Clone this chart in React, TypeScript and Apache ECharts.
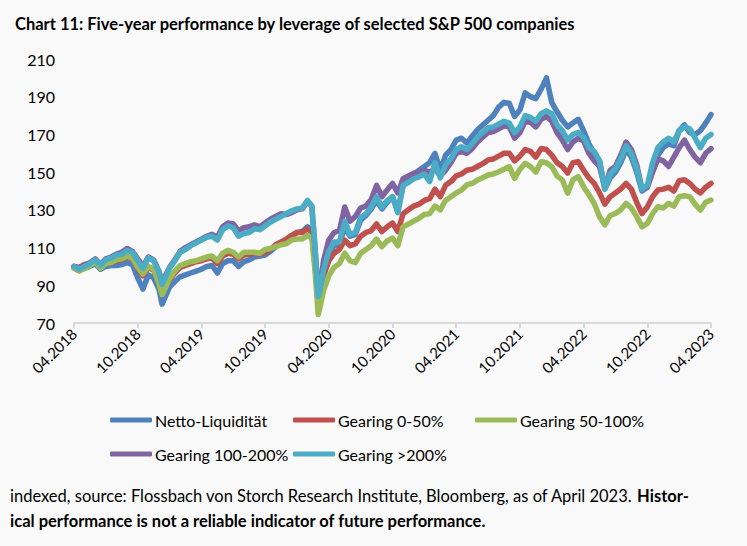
import React, { useEffect, useRef } from "react";
import * as echarts from "echarts";

const xLabels = ["04.2018", "10.2018", "04.2019", "10.2019", "04.2020", "10.2020", "04.2021", "10.2021", "04.2022", "10.2022", "04.2023"];

const seriesNames = ["Netto-Liquidität", "Gearing 0-50%", "Gearing 50-100%", "Gearing 100-200%", "Gearing >200%"];
const colors = ["#4F81BD", "#C0504D", "#9BBB59", "#8064A2", "#4BACC6"];

// month index since 04.2018
const months = [
  0, 0.5, 1, 1.5, 2, 2.5, 3, 3.5, 4, 4.5, 5, 5.5, 6, 6.5, 7, 7.5, 8, 8.3, 8.6, 9, 9.5,
  10, 10.5, 11, 11.5, 12, 12.5, 13, 13.5, 14, 14.5, 15, 15.5, 16, 16.5, 17, 17.5, 18, 18.5, 19, 19.5,
  20, 20.5, 21, 21.5, 22, 22.4, 22.7, 23, 23.2, 23.5, 24, 24.5, 25, 25.5, 26, 26.5, 27, 27.5, 28, 28.5, 29, 29.5,
  30, 30.5, 31, 31.5, 32, 32.5, 33, 33.5, 34, 34.5, 35, 35.5, 36, 36.5, 37, 37.5, 38, 38.5, 39, 39.5,
  40, 40.5, 41, 41.5, 42, 42.5, 43, 43.5, 44, 44.5, 45, 45.5, 46, 46.5, 47, 47.5, 48, 48.5, 49, 49.5,
  50, 50.5, 51, 51.5, 52, 52.5, 53, 53.5, 54, 54.5, 55, 55.5, 56, 56.5, 57, 57.5, 58, 58.5, 59, 59.5, 60,
];

const nettoLiquiditaet = [
  99.5, 98, 99, 100, 101.5, 98.5, 100, 100.5, 100.5, 101, 102, 101, 94, 88, 95.5, 94, 88, 80, 84, 89, 92,
  94.5, 95.5, 96.5, 97.5, 98.5, 100, 100.5, 96.5, 101.5, 103, 103, 100, 102.5, 103.5, 105, 105.5, 106, 108, 110.5, 112,
  113.5, 116, 118, 118.5, 121, 119, 100, 82, 86, 96, 106, 111, 111.5, 121, 116, 117, 124.5, 127, 130.5, 135, 130.5, 134,
  137, 129, 143, 145.5, 149, 151, 153, 155, 160, 151, 159, 162, 167, 168, 165.5, 169, 172.5, 175, 177.5, 180,
  184.5, 187, 186.5, 179.5, 183, 192, 190, 189, 194, 200, 187, 182, 177.5, 174, 176, 178, 172, 165, 160, 156,
  141, 147, 150, 155, 162, 158, 150, 140, 142, 152, 159, 163, 165, 164, 172, 175, 171, 170, 172, 176, 180.5,
];

const gearing0to50 = [
  100, 99.5, 101, 101.5, 103, 100, 102, 102, 103, 103.5, 105, 104, 99, 95, 99.5, 98, 92, 86, 89, 93, 96.5,
  99.5, 100.5, 101.5, 102.5, 103, 104, 104.5, 101.5, 105.5, 107, 106.5, 104, 106, 106.5, 107, 106.5, 107.5, 109, 111.5, 113,
  114.5, 116.5, 118, 118, 120, 118, 104, 82, 86, 95, 103, 107, 109, 114, 111, 112, 116, 118, 119, 122.5, 118.5, 121,
  123, 118.5, 128, 130, 132, 133, 135, 136, 141, 137, 143, 145, 148, 149, 151, 151.5, 153, 154.5, 156.5, 157,
  158.5, 160, 160, 156, 158.5, 162, 161, 158, 162.5, 162, 159, 155, 153, 149.5, 155, 155.5, 151, 147, 144, 139,
  133, 137, 139, 141, 144, 141, 134, 128, 131.5, 137, 140.5, 141, 142, 140, 145.5, 146, 144, 141, 139, 142, 144,
];

const gearing50to100 = [
  99, 97.5, 99, 100.5, 102.5, 99, 101.5, 102, 103.5, 104, 105.5, 104.5, 99.5, 96, 100, 98.5, 91, 85, 88.5, 93.5, 97.5,
  100.5, 101.5, 102.5, 103, 104, 105, 105.5, 103, 107, 108.5, 107.5, 105, 107.5, 107.5, 107.5, 107, 109, 109.5, 110.5, 111.5,
  112, 114, 114.5, 114.5, 116.5, 115, 98, 74.5, 79, 87, 95, 99.5, 101.5, 107, 103, 102, 107, 109, 111, 114.5, 110.5, 113.5,
  115, 111, 121, 122.5, 124, 125.5, 127.5, 128, 132, 130, 135, 137, 139, 140.5, 143.2, 144, 145.8, 147, 148.5, 149,
  150.2, 151.5, 152.9, 146.7, 151.5, 154.7, 152.9, 150, 155.5, 155, 152.9, 148, 145.8, 138.8, 146, 147.6, 142.3, 138, 133.4, 126.4,
  122, 127, 128.1, 130, 133.4, 131, 126.4, 121, 122.8, 128, 131.7, 131, 133.4, 132, 137, 137.5, 137, 133, 129.9, 134, 135.2,
];

const gearing100to200 = [
  100, 99, 100.5, 102, 104, 101, 104, 105, 106.5, 107.5, 109.5, 108, 104, 100, 105, 103.5, 97.5, 91.5, 95, 99.5, 103.5,
  108, 110, 111.5, 113, 114.5, 116, 117, 115.5, 121, 123, 122.5, 119, 120.5, 121, 122, 121, 123, 125, 126.5, 128,
  127.5, 128.5, 130, 130.5, 134.5, 132, 110, 85.5, 90, 103, 114, 118, 119, 131.5, 124, 126.5, 131, 132, 135.5, 143, 137, 140.5,
  144, 139, 146.5, 148, 149.5, 150, 151, 150, 152, 148, 151, 155, 160, 161, 160, 162.5, 166, 168.5, 171, 171.5,
  173, 174.5, 174, 168, 171, 177, 176.5, 174, 178, 179.5, 177, 171, 167, 162, 166, 168, 166.5, 160, 156, 153,
  142, 151, 153, 159, 166, 162, 154, 141, 142, 150, 157, 156, 153, 158, 163, 167, 162, 158, 155, 160, 162.5,
];

const gearingAbove200 = [
  100, 98.5, 100, 101.5, 103.5, 100.5, 103.5, 104.5, 106, 106.5, 108.5, 107.5, 103, 99, 104.5, 103, 97, 90.5, 94, 99, 103,
  107.5, 109, 111, 112.5, 114, 115.5, 116, 114, 119.5, 121.5, 120.5, 116, 117.5, 118, 120, 119.5, 121.5, 123.5, 125, 126.5,
  128, 129.5, 130.5, 131, 135, 132, 110, 84, 88, 98, 108, 113, 113, 124, 117, 118, 126, 128, 131.5, 137, 131.5, 135,
  137, 128.5, 143, 144.5, 146.5, 147.5, 149, 145, 155, 147, 154, 157, 162, 163.5, 162, 165, 168.5, 171, 173.5, 174,
  175.5, 177, 176, 171, 174, 180, 179, 177, 181, 182.5, 181, 175, 172, 167, 170, 171, 168.5, 163, 161, 156,
  141, 149, 152, 157, 164, 160, 152, 141, 143, 155, 163, 166, 168, 166, 172, 174, 173, 168, 163, 168, 170,
];

const seriesValues = [nettoLiquiditaet, gearing0to50, gearing50to100, gearing100to200, gearingAbove200];

const FONT = 'Lato, "Noto Sans", sans-serif';

const legendPos = [
  { left: 110, top: 412 },
  { left: 293, top: 412 },
  { left: 475, top: 412 },
  { left: 110, top: 446 },
  { left: 293, top: 446 },
];

export default function App() {
  const ref = useRef<HTMLDivElement>(null);

  useEffect(() => {
    document.body.style.margin = "0";
    const chart = echarts.init(ref.current!, undefined, { renderer: "svg" });
    const option: any = {
      animation: false,
      backgroundColor: "#f9f9f9",
      title: {
        text: "Chart 11: Five-year performance by leverage of selected S&P 500 companies",
        left: 10,
        top: 10,
        textStyle: { fontFamily: FONT, fontSize: 16.5, fontWeight: "bold", color: "#000" },
      },
      grid: { left: 74, right: 36, top: 59, bottom: 223, containLabel: false },
      xAxis: {
        type: "value",
        min: 0,
        max: 60,
        interval: 6,
        axisLine: { show: true, lineStyle: { color: "#d9d9d9", width: 2 } },
        axisTick: { show: true, length: 5, lineStyle: { color: "#d9d9d9", width: 2 } },
        splitLine: { show: false },
        axisLabel: {
          rotate: 45,
          margin: 8,
          color: "#000",
          fontFamily: FONT,
          fontSize: 15,
          formatter: (v: number) => xLabels[Math.round(v / 6)] ?? "",
        },
      },
      yAxis: {
        type: "value",
        min: 70,
        max: 210,
        interval: 20,
        axisLine: { show: false },
        axisTick: { show: false },
        splitLine: { show: false },
        axisLabel: { color: "#000", fontFamily: FONT, fontSize: 16, margin: 19 },
      },
      legend: seriesNames.map((n, i) => ({
        data: [n],
        left: legendPos[i].left,
        top: legendPos[i].top,
        icon: "roundRect",
        itemWidth: 42,
        itemHeight: 5,
        itemGap: 0,
        padding: 0,
        textStyle: { fontFamily: FONT, fontSize: 16, color: "#000", padding: [0, 0, 0, -2] },
      })),
      series: seriesNames.map((n, i) => ({
        name: n,
        type: "line",
        showSymbol: false,
        symbol: "none",
        color: colors[i],
        lineStyle: { width: 5.5, color: colors[i], cap: "round", join: "round" },
        data: months.map((m, j) => [m, seriesValues[i][j]]),
      })),
      graphic: [
        {
          type: "text",
          left: 10,
          top: 487,
          style: {
            text: "indexed, source: Flossbach von Storch Research Institute, Bloomberg, as of April 2023. {b|Histor-}",
            fontFamily: FONT,
            fontSize: 16.5,
            fill: "#000",
            rich: { b: { fontWeight: "bold", fontFamily: FONT, fontSize: 16.5, fill: "#000" } },
          },
        },
        {
          type: "text",
          left: 10,
          top: 512,
          style: {
            text: "ical performance is not a reliable indicator of future performance.",
            fontFamily: FONT,
            fontSize: 16.5,
            fontWeight: "bold",
            fill: "#000",
          },
        },
      ],
    };
    chart.setOption(option);
    return () => chart.dispose();
  }, []);

  return <div ref={ref} style={{ width: 747, height: 546 }} />;
}
